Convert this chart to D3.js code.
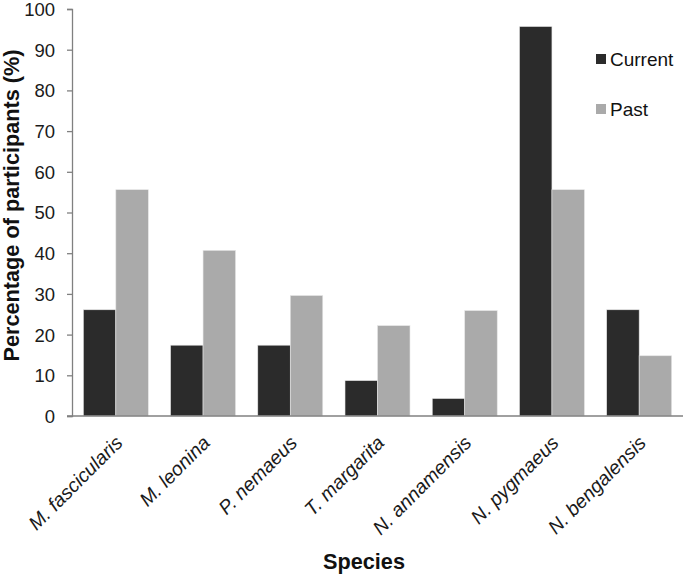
<!DOCTYPE html>
<html>
<head>
<meta charset="utf-8">
<script src="https://cdn.jsdelivr.net/npm/d3@7"></script>
<style>
html,body{margin:0;padding:0;background:#fff;}
svg{display:block;font-family:"Liberation Sans",Arial,sans-serif;}
</style>
</head>
<body>
<svg id="chart" width="685" height="575"></svg>
<script>
const categories = ["M. fascicularis","M. leonina","P. nemaeus","T. margarita","N. annamensis","N. pygmaeus","N. bengalensis"];
const seriesNames = ["Current","Past"];
const currentValues = [26.1,17.4,17.4,8.7,4.3,95.7,26.1];
const pastValues = [55.6,40.7,29.6,22.2,25.9,55.6,14.8];
const yTicks = [0,10,20,30,40,50,60,70,80,90,100];
const colors = ["#2b2b2b","#aaaaaa"];

const svg = d3.select("#chart");
const mLeft = 72, mRight = 683, mTop = 9, mBottom = 416;

const x = d3.scaleBand().domain(categories).range([mLeft, mRight]).paddingInner(0.255).paddingOuter(0.13);
const xs = d3.scaleBand().domain(seriesNames).range([0, x.bandwidth()]);
const y = d3.scaleLinear().domain([0,100]).range([mBottom, mTop]);

const data = categories.map((c,i)=>({cat:c, vals:[currentValues[i], pastValues[i]]}));

// bars
const g = svg.append("g");
data.forEach(d=>{
  d.vals.forEach((v,j)=>{
    g.append("rect")
      .attr("x", x(d.cat)+xs(seriesNames[j]))
      .attr("y", y(v))
      .attr("width", xs.bandwidth())
      .attr("height", y(0)-y(v))
      .attr("fill", colors[j])
      .attr("stroke", "#e6e6e6").attr("stroke-width", 0.6);
  });
});

// y axis
const yAxis = svg.append("g").attr("transform",`translate(${mLeft},0)`)
  .call(d3.axisLeft(y).tickValues(yTicks).tickSize(5).tickPadding(12).tickFormat(d3.format("d")));
yAxis.select(".domain").attr("stroke","#808080").attr("stroke-width",1.3);
yAxis.selectAll(".tick line").attr("stroke","#808080").attr("stroke-width",1.3);
yAxis.selectAll(".tick text").attr("fill","#1a1a1a").style("font-size","18.5px").attr("dy","0.35em");

// x axis
const xAxis = svg.append("g").attr("transform",`translate(0,${mBottom})`)
  .call(d3.axisBottom(x).tickSize(0).tickPadding(0));
xAxis.select(".domain").attr("d",`M${mLeft-5},0H${mRight}`).attr("stroke","#808080").attr("stroke-width",1.3);
xAxis.selectAll(".tick text")
  .attr("fill","#1a1a1a")
  .style("font-size","19.5px").style("font-style","italic")
  .attr("text-anchor","end")
  .attr("dy",null).attr("y",0)
  .attr("transform","translate(8,28) rotate(-45)");

// legend
const legend = svg.append("g");
seriesNames.forEach((s,j)=>{
  const ly = 59 + j*50;
  legend.append("rect").attr("x",596).attr("y",ly-5).attr("width",10).attr("height",10).attr("fill",colors[j]);
  legend.append("text").attr("x",610).attr("y",ly+6.5).text(s).style("font-size","19px").attr("fill","#111");
});

// axis titles
svg.append("text").attr("transform",`translate(19,205.5) rotate(-90)`)
  .attr("text-anchor","middle").style("font-size","21.7px").style("font-weight","bold").attr("fill","#111")
  .text("Percentage of participants (%)");
svg.append("text").attr("x",364).attr("y",569).attr("text-anchor","middle")
  .style("font-size","21.7px").style("font-weight","bold").attr("fill","#111").text("Species");
</script>
</body>
</html>
